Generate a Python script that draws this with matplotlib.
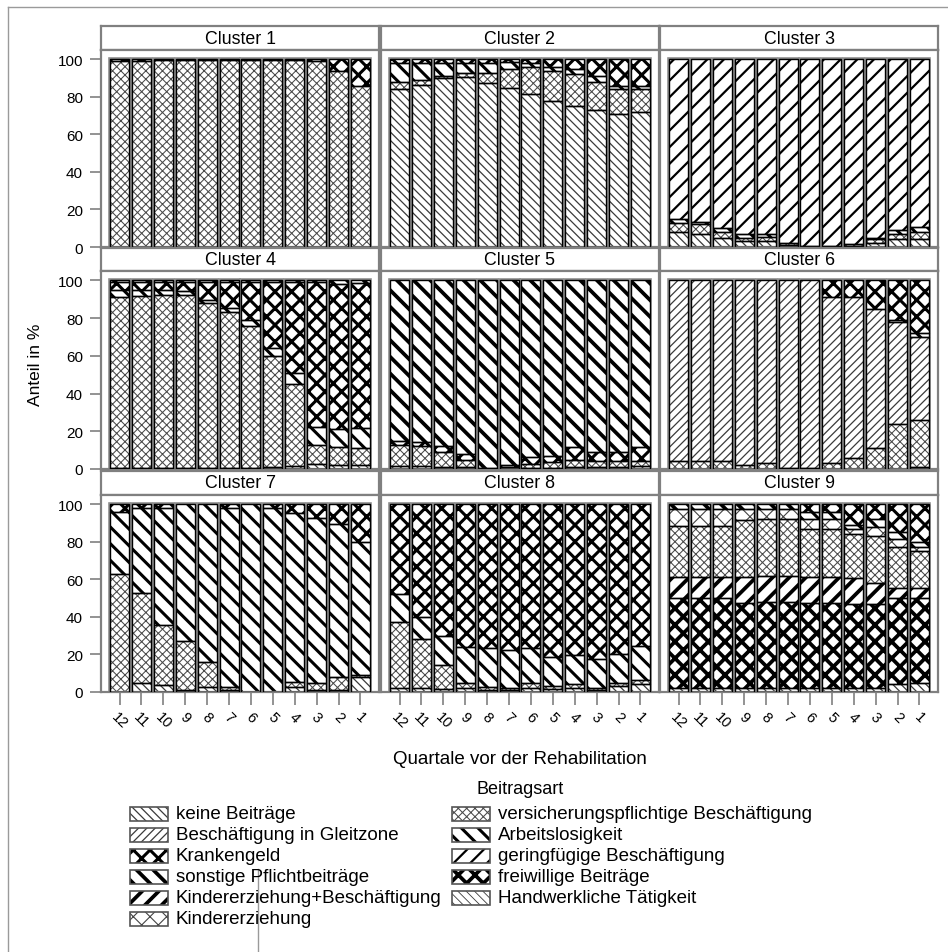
import numpy as np
import matplotlib
matplotlib.use('Agg')
import matplotlib.pyplot as plt
from matplotlib.patches import Rectangle

plt.rcParams['font.family'] = ['Liberation Sans', 'DejaVu Sans']

W, H = 948, 953

quartale = ['12', '11', '10', '9', '8', '7', '6', '5', '4', '3', '2', '1']

KEINE = 'keine Beiträge'
GLEIT = 'Beschäftigung in Gleitzone'
KRANK = 'Krankengeld'
SONST = 'sonstige Pflichtbeiträge'
KIBE = 'Kindererziehung+Beschäftigung'
KIND = 'Kindererziehung'
VERS = 'versicherungspflichtige Beschäftigung'
ARB = 'Arbeitslosigkeit'
GERING = 'geringfügige Beschäftigung'
FREI = 'freiwillige Beiträge'
HAND = 'Handwerkliche Tätigkeit'

# legend order (filled column by column)
legend_order = [KEINE, GLEIT, KRANK, SONST, KIBE, KIND,
                VERS, ARB, GERING, FREI, HAND]

# stacking order, bottom to top
stack_order = [KEINE, FREI, KIBE, VERS, KIND, GLEIT, ARB, KRANK,
               GERING, SONST, HAND]

# hatch, hatch line width, hatch colour
styles = {
    KEINE:  ('\\\\\\\\', 0.9, '#3a3a3a'),
    GLEIT:  ('////', 0.9, '#3a3a3a'),
    KRANK:  ('xx', 2.2, 'black'),
    SONST:  ('\\\\', 2.7, 'black'),
    KIBE:   ('//', 2.7, 'black'),
    KIND:   ('xx', 0.8, '#444444'),
    VERS:   ('xxxx', 0.75, '#4a4a4a'),
    ARB:    ('\\\\', 2.2, 'black'),
    GERING: ('//', 1.6, 'black'),
    FREI:   ('xx', 2.7, 'black'),
    HAND:   ('\\\\\\\\', 0.6, '#3a3a3a'),
}

# Anteil in % per Quartal (12 ... 1)
cluster_1 = {
    VERS:  [99, 99, 99.5, 99.5, 99.5, 99.5, 99.5, 99.5, 99.5, 99, 94, 86],
    KRANK: [1, 1, 0.5, 0.5, 0.5, 0.5, 0.5, 0.5, 0.5, 1, 6, 14],
}
cluster_2 = {
    KEINE: [84, 86.5, 90, 90.5, 87.5, 84.5, 81.5, 78, 75, 73, 71, 72],
    VERS:  [4, 2.5, 1, 2, 5.5, 10.5, 14.5, 16, 17, 15, 13, 12],
    ARB:   [10, 9, 7, 5.5, 5, 3.5, 2, 2, 3, 3, 2, 2],
    KRANK: [2, 2, 2, 2, 2, 1.5, 2, 4, 5, 9, 14, 14],
}
cluster_3 = {
    KEINE:  [8, 7, 5, 3, 3, 1, 0.5, 0.5, 0.5, 2, 4, 4],
    VERS:   [5, 5, 3, 2, 2.5, 1, 0, 0, 1, 2, 3, 4],
    ARB:    [2, 1.5, 2, 2, 1.5, 0, 0, 0, 0, 1, 2, 2.5],
    GERING: [85, 86.5, 90, 93, 93, 98, 99.5, 99.5, 98.5, 95, 91, 89.5],
}
cluster_4 = {
    KEINE: [0.5, 0.5, 0.5, 0.5, 0.5, 0.5, 0.5, 1, 1.5, 2.5, 2, 2],
    VERS:  [90.5, 91, 92, 92, 87.5, 82.5, 75.5, 59, 43.5, 10, 9.5, 9],
    ARB:   [4, 3.5, 2.5, 2, 1.5, 2.5, 3, 4, 6, 10, 9.5, 10.5],
    KRANK: [4, 4, 4, 4.5, 9.5, 13.5, 20, 35, 48, 76.5, 77, 77],
    SONST: [1, 1, 1, 1, 1, 1, 1, 1, 1, 1, 2, 1.5],
}
cluster_5 = {
    KEINE: [1.5, 1.5, 1, 1, 0.5, 1, 0.5, 0.5, 1, 1, 1, 1.5],
    VERS:  [11, 10.5, 8, 4, 0, 0, 2, 3, 4, 3.5, 3.5, 3],
    KRANK: [2.5, 2.5, 3, 3, 0, 1, 4, 3.5, 6.5, 4.5, 4.5, 7],
    SONST: [85, 85.5, 88, 92, 99.5, 98, 93.5, 93, 88.5, 91, 91, 88.5],
}
cluster_6 = {
    KEINE: [0, 0, 0, 0, 0, 0.5, 0.5, 0, 0, 0, 0, 1],
    VERS:  [4.5, 4.5, 4.5, 2, 3, 0, 0, 3, 6, 11, 24, 25],
    GLEIT: [95.5, 95.5, 95.5, 98, 97, 99.5, 99.5, 88, 85, 74, 54, 44],
    ARB:   [0, 0, 0, 0, 0, 0, 0, 0, 0, 0, 1, 2],
    KRANK: [0, 0, 0, 0, 0, 0, 0, 9, 9, 15, 21, 28],
}
cluster_7 = {
    KEINE: [0, 5, 3.5, 1, 2.5, 1, 0, 0, 2.5, 1, 1, 8],
    VERS:  [63, 48, 32, 26, 13.5, 1.5, 0, 0, 3, 4, 7, 1],
    ARB:   [33, 45, 62.5, 73, 84, 95.5, 100, 98, 90, 88, 81.5, 71],
    KRANK: [4, 2, 2, 0, 0, 2, 0, 2, 4.5, 7, 10.5, 20],
}
cluster_8 = {
    KEINE: [2, 2, 1.5, 2, 1, 1, 2, 1.5, 2, 1, 3, 4],
    VERS:  [35.5, 26, 13, 3, 1.5, 1, 3, 1.5, 2, 1, 2, 2.5],
    ARB:   [14.5, 12, 15.5, 19, 21, 20.5, 18.5, 15.5, 15.5, 15.5, 15, 18],
    KRANK: [48, 60, 70, 76, 76.5, 77.5, 76.5, 81.5, 80.5, 82.5, 80, 75.5],
}
cluster_9 = {
    KEINE: [2, 2, 2, 2, 2, 2, 2, 2, 2, 2, 4.5, 5],
    FREI:  [48, 48, 48, 45.5, 46, 46, 45.5, 45.5, 45, 45, 45.5, 45],
    KIBE:  [11.5, 11.5, 11.5, 14, 14, 14, 14, 14, 14, 11, 5.5, 5.5],
    VERS:  [27, 27, 27, 30, 30, 30, 25.5, 25.5, 23, 25, 22, 19.5],
    KIND:  [9, 9, 9, 6, 5.5, 5.5, 5, 5, 3, 5, 4, 2.5],
    ARB:   [0, 0, 0, 0, 0, 0, 4, 4, 2, 4, 4, 2.5],
    KRANK: [0, 0, 0, 0, 0, 0, 4, 4, 11, 8, 14.5, 20],
    SONST: [2.5, 2.5, 2.5, 2.5, 2.5, 2.5, 0, 0, 0, 0, 0, 0],
}
clusters = [cluster_1, cluster_2, cluster_3, cluster_4, cluster_5,
            cluster_6, cluster_7, cluster_8, cluster_9]

GRAY = '#808080'
BW = 0.87


def hatched(make, name):
    hatch, lw, col = styles[name]
    with plt.rc_context({'hatch.linewidth': lw}):
        art = make(hatch, col)
    items = art if hasattr(art, '__iter__') else [art]
    for p in items:
        if hasattr(p, 'set_hatch_linewidth'):
            p.set_hatch_linewidth(lw)
    return art


def px_axes(x0, y0, x1, y1, **kw):
    return fig.add_axes([x0 / W, 1 - y1 / H, (x1 - x0) / W, (y1 - y0) / H], **kw)


def draw_panel(ax, data):
    x = np.arange(len(quartale))
    bottom = np.zeros(len(quartale))
    ax.bar(x, 100, width=BW, facecolor='none', edgecolor='#8c8c8c',
           linewidth=2.6, zorder=1)
    for name in stack_order:
        if name not in data:
            continue
        vals = np.array(data[name], dtype=float)
        m = vals > 0
        hatched(lambda h, c: ax.bar(x[m], vals[m], bottom=bottom[m], width=BW,
                                    facecolor='white', edgecolor=c, hatch=h,
                                    linewidth=0, zorder=2), name)
        ax.bar(x[m], vals[m], bottom=bottom[m], width=BW, facecolor='none',
               edgecolor='black', linewidth=1.0, zorder=3)
        bottom += vals


fig = plt.figure(figsize=(W / 100, H / 100), dpi=100)

# page frame and annotation layer
over = px_axes(0, 0, W, H, zorder=-5)
over.set_xlim(0, W)
over.set_ylim(H, 0)
over.axis('off')
over.plot([8, W], [8, 8], color='#9a9a9a', lw=1)
over.plot([8, 8], [8, H], color='#9a9a9a', lw=1)
over.plot([258, 258], [870, H], color='#9a9a9a', lw=1)

cols = [(101, 379), (381, 659), (660, 938)]
rows = [(27, 51, 248), (249, 272, 470), (472, 496, 693)]

for i, data in enumerate(clusters):
    r, c = divmod(i, 3)
    x0, x1 = cols[c]
    s0, s1, p1 = rows[r]

    strip = px_axes(x0, s0, x1, s1)
    strip.set_xticks([])
    strip.set_yticks([])
    for sp in strip.spines.values():
        sp.set_color(GRAY)
        sp.set_linewidth(1.6)
    strip.text(0.5, 0.5, f'Cluster {i + 1}', ha='center', va='center',
               fontsize=12.8, transform=strip.transAxes)

    ax = px_axes(x0, s1, x1, p1)
    draw_panel(ax, data)
    ax.set_xlim(-0.85, len(quartale) - 1 + 0.85)
    ax.set_ylim(0, 105)
    for sp in ax.spines.values():
        sp.set_color(GRAY)
        sp.set_linewidth(1.6)
    ax.tick_params(colors=GRAY, length=8, width=1.2, labelcolor='black')
    ax.set_yticks([0, 20, 40, 60, 80, 100])
    ax.set_xticks(np.arange(len(quartale)))
    if c == 0:
        ax.set_yticklabels(['0', '20', '40', '60', '80', '100'], fontsize=11)
        ax.tick_params(axis='y', pad=5)
    else:
        ax.tick_params(axis='y', left=False, labelleft=False)
    if r == 2:
        ax.set_xticklabels(quartale, rotation=-45, ha='center', va='top',
                           fontsize=10.5)
        ax.tick_params(axis='x', length=9)
    else:
        ax.tick_params(axis='x', bottom=False, labelbottom=False)

over.text(36, 365, 'Anteil in %', rotation=90, ha='center', va='center',
          fontsize=12.5)
over.text(520, 760, 'Quartale vor der Rehabilitation', ha='center',
          va='center', fontsize=13.5)

# legend
over.text(520, 790, 'Beitragsart', ha='center', va='center', fontsize=13)
leg_x = [130, 452]
for k, name in enumerate(legend_order):
    col, row = (0, k) if k < 6 else (1, k - 6)
    lx = leg_x[col]
    ly = 815 + row * 21
    hatched(lambda h, c: over.add_patch(
        Rectangle((lx, ly - 7), 38, 14, facecolor='white', edgecolor=c,
                  hatch=h, linewidth=0)), name)
    over.add_patch(Rectangle((lx, ly - 7), 38, 14, facecolor='none',
                             edgecolor='#555555', linewidth=1.2))
    over.text(lx + 46, ly, name, ha='left', va='center', fontsize=13.5)

fig.savefig('out.png', dpi=100)
